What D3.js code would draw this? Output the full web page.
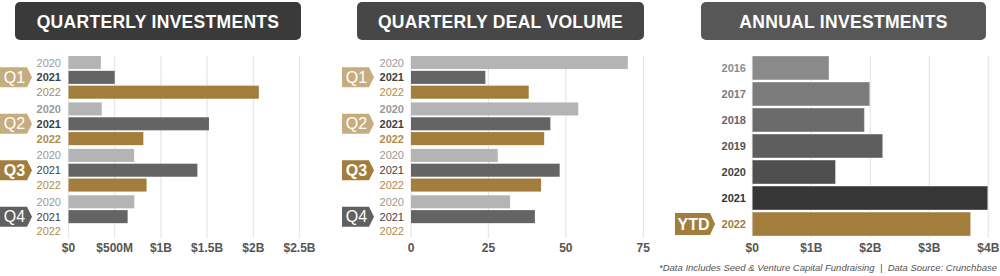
<!DOCTYPE html>
<html><head><meta charset="utf-8">
<script src="https://cdn.jsdelivr.net/npm/d3@7"></script>
<style>
html,body{margin:0;padding:0;background:#fff;}
svg{display:block;font-family:"Liberation Sans",Arial,sans-serif;}
</style></head>
<body>
<svg id="c" width="1000" height="276"></svg>
<script>
// ---- data ----
const quarters = ["Q1","Q2","Q3","Q4"];
const qYears = ["2020","2021","2022"];
// Quarterly investments in $M, per year [2020, 2021, 2022]
const invQ1 = [350, 500, 2060];
const invQ2 = [360, 1520, 810];
const invQ3 = [710, 1395, 845];
const invQ4 = [712, 640, null];
// Quarterly deal volume
const dealQ1 = [70, 24, 38];
const dealQ2 = [54, 45, 43];
const dealQ3 = [28, 48, 42];
const dealQ4 = [32, 40, null];
const invTicks = [0, 500, 1000, 1500, 2000, 2500];
const invTickLabels = ["$0","$500M","$1B","$1.5B","$2B","$2.5B"];
const dealTicks = [0, 25, 50, 75];
const dealTickLabels = ["0","25","50","75"];
// Annual investments in $B
const annualYears = ["2016","2017","2018","2019","2020","2021","2022"];
const annualValues = [1.30, 1.99, 1.90, 2.21, 1.41, 3.99, 3.70];
const annualTicks = [0,1,2,3,4];
const annualTickLabels = ["$0","$1B","$2B","$3B","$4B"];
const titles = ["QUARTERLY INVESTMENTS","QUARTERLY DEAL VOLUME","ANNUAL INVESTMENTS"];
const footnote = "*Data Includes Seed & Venture Capital Fundraising  |  Data Source: Crunchbase";

// ---- styles ----
const barColor = {"2020":"#b4b4b4","2021":"#646464","2022":"#a37d3c"};
const yearLabelColor = {"2020":"#9a9a9a","2021":"#3f3f3f","2022":"#b08b4e"};
const badgeColor = {"Q1":"#c5ad80","Q2":"#c5ad80","Q3":"#a37d3c","Q4":"#606060"};
const badgeBold = {"Q1":false,"Q2":false,"Q3":true,"Q4":false};
const annualColors = ["#8a8a8a","#7b7b7b","#6b6b6b","#5e5e5e","#4f4f4f","#363636","#a37d3c"];
const annualLabelColors = ["#8c8c8c","#7a7a7a","#666","#555","#444","#333","#a07c3a"];
const titleFill = ["#3a3a3a","#474747","#575757"];

const svg = d3.select("#c");

function titleBox(x0, x1, i){
  svg.append("rect").attr("x",x0).attr("y",2).attr("width",x1-x0).attr("height",38)
     .attr("rx",5).attr("fill",titleFill[i]);
  svg.append("text").attr("x",(x0+x1)/2).attr("y",27.5).attr("text-anchor","middle")
     .attr("fill","#fff").attr("font-weight","bold").attr("font-size",17.5)
     .attr("letter-spacing",0.3).text(titles[i]);
}

function badge(x, yc, w, h, color, label, bold){
  const tip = 5;
  const pts = [[x,yc-h/2],[x+w-tip,yc-h/2],[x+w,yc],[x+w-tip,yc+h/2],[x,yc+h/2]];
  svg.append("path").attr("d","M"+pts.map(p=>p.join(",")).join("L")+"Z").attr("fill",color);
  svg.append("text").attr("x",x+(w-tip)/2+1).attr("y",yc+5.5).attr("text-anchor","middle")
     .attr("fill","#fff").attr("font-size",16).attr("font-weight",bold?"bold":"normal").text(label);
}

function grid(x, ticks, labels, y0, y1){
  const g = svg.append("g");
  g.selectAll("line").data(ticks).join("line")
    .attr("x1",d=>x(d)).attr("x2",d=>x(d)).attr("y1",y0).attr("y2",y1)
    .attr("stroke","#e6e6e6").attr("stroke-width",1.2);
  g.selectAll("text").data(ticks).join("text")
    .attr("x",d=>x(d)).attr("y",252).attr("text-anchor","middle")
    .attr("fill","#555").attr("font-size",12).attr("font-weight","bold")
    .text((d,i)=>labels[i]);
}

function quarterPanel(xr, domainMax, ticks, tickLabels, series, labelX, badgeX){
  const x = d3.scaleLinear().domain([0,domainMax]).range(xr);
  const yQ = d3.scaleBand().domain(quarters).range([56,238]).paddingInner(0.08);
  const yY = d3.scaleBand().domain(qYears).range([0,yQ.bandwidth()]).paddingInner(0.12);
  grid(x, ticks, tickLabels, 56, 238);
  quarters.forEach((q,qi)=>{
    const vals = series[qi];
    const g = svg.append("g").attr("transform",`translate(0,${yQ(q)})`);
    g.selectAll("rect").data(qYears.map((yr,i)=>({yr,v:vals[i]})).filter(d=>d.v!=null)).join("rect")
      .attr("x",x(0)).attr("y",d=>yY(d.yr)).attr("height",yY.bandwidth())
      .attr("width",d=>x(d.v)-x(0)).attr("fill",d=>barColor[d.yr]);
    g.selectAll("text").data(qYears).join("text")
      .attr("x",labelX).attr("y",d=>yY(d)+yY.bandwidth()/2+4).attr("text-anchor","end")
      .attr("font-size",11)
      .attr("font-weight",d=>(q==="Q2"||(q==="Q1"&&d==="2021"))?"bold":"normal")
      .attr("fill",d=>yearLabelColor[d]).text(d=>d);
    badge(badgeX, yQ(q)+yY("2021")+yY.bandwidth()/2, 32, 20, badgeColor[q], q, badgeBold[q]);
  });
}

// Panel 1
titleBox(15, 301, 0);
quarterPanel([68.5, 299.5], 2500, invTicks, invTickLabels, [invQ1,invQ2,invQ3,invQ4], 61, 0);
// Panel 2
titleBox(357, 644, 1);
quarterPanel([411, 643.3], 75, dealTicks, dealTickLabels, [dealQ1,dealQ2,dealQ3,dealQ4], 404, 342);

// Panel 3
titleBox(701, 986, 2);
{
  const x = d3.scaleLinear().domain([0,4]).range([752.3, 988.3]);
  const y = d3.scaleBand().domain(annualYears).range([56,236]).paddingInner(0.08);
  grid(x, annualTicks, annualTickLabels, 56, 238);
  svg.append("g").selectAll("rect").data(annualYears).join("rect")
    .attr("x",x(0)).attr("y",d=>y(d)).attr("height",y.bandwidth())
    .attr("width",(d,i)=>x(annualValues[i])-x(0)).attr("fill",(d,i)=>annualColors[i])
    .attr("stroke","#fff").attr("stroke-opacity",0.35).attr("stroke-width",1);
  svg.append("g").selectAll("text").data(annualYears).join("text")
    .attr("x",746).attr("y",d=>y(d)+y.bandwidth()/2+4).attr("text-anchor","end")
    .attr("font-size",11).attr("font-weight","bold")
    .attr("fill",(d,i)=>annualLabelColors[i]).text(d=>d);
  badge(675, y("2022")+y.bandwidth()/2, 40, 22, "#a37d3c", "YTD", true);
}

svg.append("text").attr("x",997).attr("y",271).attr("text-anchor","end")
  .attr("font-size",9.5).attr("font-style","italic").attr("fill","#555")
  .attr("xml:space","preserve").text(footnote);
</script>
</body></html>
